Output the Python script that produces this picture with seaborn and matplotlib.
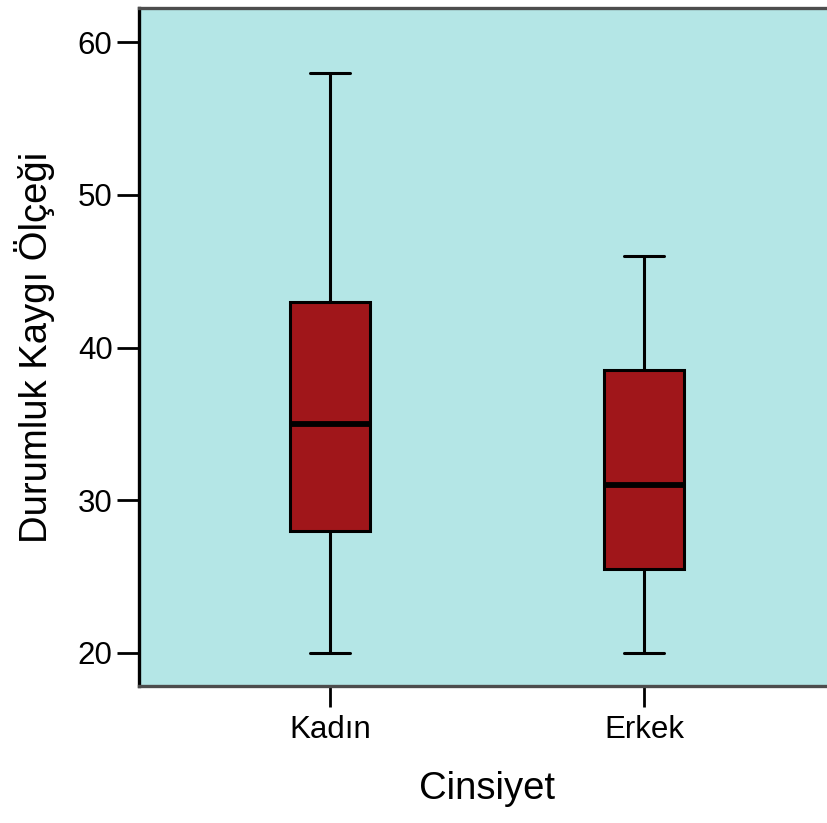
import pandas as pd
import matplotlib.pyplot as plt
import seaborn as sns

# five-number summaries (min, Q1, median, Q3, max)
kadin_values = [20, 28, 35, 43, 58]
erkek_values = [20, 25.5, 31, 38.5, 46]
groups = ["Kadın", "Erkek"]
y_ticks = [20, 30, 40, 50, 60]


def build_frame():
    rows = []
    for grp, vals in zip(groups, [kadin_values, erkek_values]):
        for v in vals:
            rows.append({"Cinsiyet": grp, "Durumluk Kaygı Ölçeği": v})
    return pd.DataFrame(rows)


def main():
    data = build_frame()

    sns.set_theme(style="white")
    plt.rcParams["font.family"] = ["Liberation Sans", "DejaVu Sans"]
    plt.rcParams["text.color"] = "black"
    plt.rcParams["axes.labelcolor"] = "black"
    plt.rcParams["xtick.color"] = "black"
    plt.rcParams["ytick.color"] = "black"

    fig = plt.figure(figsize=(8.27, 8.23), dpi=100)
    ax = fig.add_axes([0.168, 0.1665, 0.842, 0.8238])
    ax.set_facecolor("#b4e6e6")

    sns.boxplot(data=data, x="Cinsiyet", y="Durumluk Kaygı Ölçeği", order=groups,
                color="#a0161a", saturation=1, linecolor="black", linewidth=2.2,
                width=0.254, whis=1.5, medianprops={"linewidth": 4.2}, ax=ax)

    ax.set_xlim(-0.6077, 1.6077)
    ax.set_ylim(17.84, 62.23)
    ax.set_yticks(y_ticks)

    ax.tick_params(axis="y", length=16, width=2, colors="black", pad=3,
                   labelsize=22.5, left=True)
    ax.tick_params(axis="x", length=15, width=2, colors="black", pad=6,
                   labelsize=22.5, bottom=True)

    ax.set_xlabel("Cinsiyet", fontsize=27.5, color="black")
    ax.set_ylabel("Durumluk Kaygı Ölçeği", fontsize=27.5, color="black")
    ax.xaxis.set_label_coords(0.5, -0.125)
    ax.yaxis.set_label_coords(-0.121, 0.5)

    ax.spines["left"].set_color("black")
    ax.spines["left"].set_linewidth(2.4)
    for side in ["top", "bottom", "right"]:
        ax.spines[side].set_color("#4d4d4d")
        ax.spines[side].set_linewidth(2.4)

    fig.savefig("out.png", dpi=100)
    plt.close(fig)


if __name__ == "__main__":
    main()
